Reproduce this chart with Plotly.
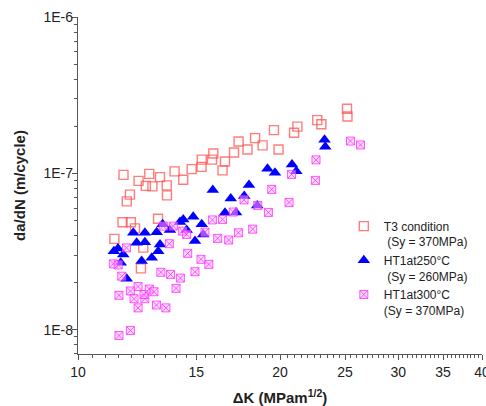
import plotly.graph_objects as go

# T3 condition (Sy = 370MPa)
t3_dk = [11.33, 11.65, 11.99, 11.69, 11.82, 11.95, 12.31, 12.77, 12.62, 12.91,
         13.25, 13.56, 13.57, 13.16, 12.16, 12.41, 12.51, 13.93, 14.35, 14.77,
         15.28, 15.29, 15.84, 15.91, 16.42, 16.56, 17.08, 17.35, 17.89, 18.36,
         18.84, 19.59, 19.90, 20.99, 21.23, 22.73, 23.05, 25.17, 25.21]
t3_rate = [3.81e-8, 4.87e-8, 4.87e-8, 9.78e-8, 6.62e-8, 7.31e-8, 8.95e-8, 9.93e-8, 8.32e-8, 8.26e-8,
           9.46e-8, 8.38e-8, 7.23e-8, 5.13e-8, 4.45e-8, 2.47e-8, 3.35e-8, 1.03e-7, 9.11e-8, 1.065e-7,
           1.10e-7, 1.225e-7, 1.225e-7, 1.34e-7, 1.045e-7, 1.19e-7, 1.36e-7, 1.60e-7, 1.42e-7, 1.68e-7,
           1.51e-7, 1.89e-7, 1.42e-7, 1.82e-7, 1.99e-7, 2.19e-7, 2.06e-7, 2.59e-7, 2.31e-7]

# HT1at250°C (Sy = 260MPa)
ht250_dk = [11.31, 11.47, 11.68, 11.58, 11.82, 12.09, 12.23, 12.58, 12.58, 12.44,
            12.88, 13.17, 13.25, 13.10, 13.37, 13.71, 14.19, 14.52, 14.35, 14.85,
            15.29, 15.37, 14.94, 15.88, 16.56, 16.89, 17.20, 17.69, 17.98, 18.50,
            19.16, 19.66, 20.84, 21.15, 23.30, 23.36]
ht250_rate = [3.18e-8, 3.31e-8, 3.03e-8, 2.68e-8, 2.12e-8, 4.17e-8, 3.60e-8, 4.17e-8, 3.63e-8, 2.75e-8,
              2.89e-8, 3.18e-8, 3.51e-8, 4.21e-8, 4.72e-8, 4.34e-8, 4.88e-8, 4.34e-8, 5.08e-8, 5.28e-8,
              4.72e-8, 4.07e-8, 3.69e-8, 7.82e-8, 5.60e-8, 6.92e-8, 5.63e-8, 7.16e-8, 8.44e-8, 6.24e-8,
              1.07e-7, 1.01e-7, 1.14e-7, 1.03e-7, 1.64e-7, 1.48e-7]

# HT1at300°C (Sy = 370MPa)
ht300_dk = [11.51, 11.97, 11.51, 11.97, 12.29, 12.12, 12.29, 12.58, 12.54, 12.77,
            12.98, 13.09, 13.52, 13.29, 13.74, 14.21, 14.00, 11.29, 11.48, 11.62,
            11.81, 14.57, 15.25, 15.67, 14.94, 16.15, 16.77, 15.86, 16.42, 17.34,
            13.68, 14.32, 14.52, 15.46, 13.40, 13.87, 18.21, 17.68, 18.53, 17.04,
            19.22, 19.44, 20.63, 20.81, 22.58, 22.63, 25.47, 26.36]
ht300_rate = [9.19e-9, 9.9e-9, 1.66e-8, 1.77e-8, 1.89e-8, 1.58e-8, 1.38e-8, 1.58e-8, 1.68e-8, 1.82e-8,
              1.75e-8, 1.44e-8, 1.38e-8, 2.33e-8, 2.26e-8, 2.14e-8, 1.84e-8, 2.64e-8, 2.60e-8, 2.20e-8,
              3.34e-8, 3.08e-8, 2.82e-8, 2.62e-8, 2.35e-8, 3.84e-8, 3.75e-8, 5.04e-8, 5.08e-8, 4.17e-8,
              3.55e-8, 4.27e-8, 4.07e-8, 4.21e-8, 4.60e-8, 4.60e-8, 4.40e-8, 6.77e-8, 6.24e-8, 5.66e-8,
              5.63e-8, 7.90e-8, 6.52e-8, 9.85e-8, 9.02e-8, 1.22e-7, 1.61e-7, 1.52e-7]

series_names = ["T3 condition<br> (Sy = 370MPa)",
                "HT1at250°C<br> (Sy = 260MPa)",
                "HT1at300°C<br>(Sy = 370MPa)"]

x_tickvals = [10, 15, 20, 25, 30, 35, 40]
x_ticktext = ["10", "15", "20", "25", "30", "35", "40"]
x_minor = [10 + 0.5 * i for i in range(1, 60) if (10 + 0.5 * i) % 5 != 0]
y_tickvals = [1e-8, 1e-7, 1e-6]
y_ticktext = ["1E-8", "1E-7", "1E-6"]
y_minor = [m * 10.0 ** e for e in (-9, -8, -7) for m in range(2, 10)]

FONT = "Liberation Sans, Arial, sans-serif"

fig = go.Figure()
fig.add_trace(go.Scatter(
    x=t3_dk, y=t3_rate, mode="markers", name=series_names[0],
    marker=dict(symbol="square-open", size=9, color="rgba(255,80,80,0.75)",
                line=dict(width=1.4, color="rgba(255,80,80,0.75)"))))
fig.add_trace(go.Scatter(
    x=ht250_dk, y=ht250_rate, mode="markers", name=series_names[1],
    marker=dict(symbol="triangle-up", size=11, color="#0000FF",
                line=dict(width=0))))
fig.add_trace(go.Scatter(
    x=ht300_dk, y=ht300_rate, mode="markers", name=series_names[2],
    marker=dict(symbol="square-x", size=8, color="rgba(255,190,255,0.5)",
                line=dict(width=0.9, color="rgba(255,40,255,0.85)"))))

axis_color = "#555555"
fig.update_layout(
    width=486, height=406,
    margin=dict(l=78, r=4, t=17, b=52, autoexpand=False),
    paper_bgcolor="white", plot_bgcolor="white",
    font=dict(family=FONT, size=14, color="#222222"),
    showlegend=True,
    legend=dict(x=0.658, y=0.422, xanchor="left", yanchor="top",
                bgcolor="rgba(0,0,0,0)", font=dict(size=12, family=FONT),
                valign="top"),
    xaxis=dict(type="log", range=[1, 1.60206], showgrid=False, zeroline=False,
               automargin=False,
               showline=True, linecolor=axis_color, linewidth=1.3,
               ticks="outside", ticklen=5, tickwidth=1.2, tickcolor=axis_color,
               tickmode="array", tickvals=x_tickvals, ticktext=x_ticktext,
               tickfont=dict(size=14), ticklabeloverflow="allow",
               minor=dict(tickmode="array", tickvals=x_minor, ticks="outside",
                          ticklen=3, tickwidth=1, tickcolor=axis_color),
               title=dict(text="<b>ΔK (MPam<sup>1/2</sup>)</b>", font=dict(size=15),
                          standoff=22)),
    yaxis=dict(type="log", range=[-8.155, -6], showgrid=False, zeroline=False,
               automargin=False,
               showline=True, linecolor=axis_color, linewidth=1.3,
               ticks="outside", ticklen=5, tickwidth=1.2, tickcolor=axis_color,
               tickmode="array", tickvals=y_tickvals, ticktext=y_ticktext,
               tickfont=dict(size=14), ticklabelstandoff=-4,
               minor=dict(tickmode="array", tickvals=y_minor, ticks="outside",
                          ticklen=3, tickwidth=1, tickcolor=axis_color),
               title=dict(text="<b>da/dN (m/cycle)</b>", font=dict(size=15),
                          standoff=14)),
)

fig.write_html("out.html", config={"displayModeBar": False},
               post_script="document.body.style.margin='0';document.body.style.overflow='hidden';")
